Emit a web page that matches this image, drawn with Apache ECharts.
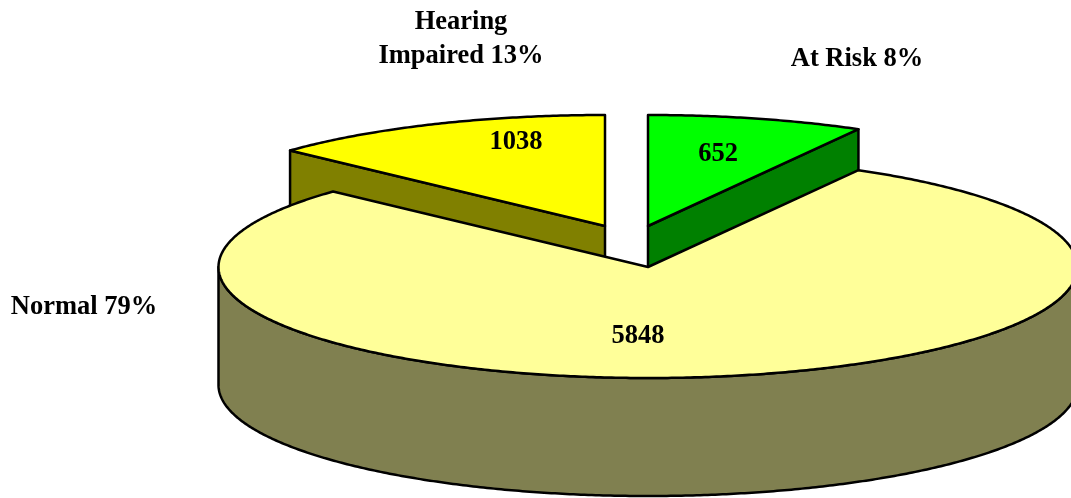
<!DOCTYPE html>
<html>
<head>
<meta charset="utf-8">
<style>
html, body { margin: 0; padding: 0; background: #fff; }
#main { width: 1071px; height: 498px; }
</style>
<script src="https://cdn.jsdelivr.net/npm/echarts@6/dist/echarts.min.js"></script>
</head>
<body>
<div id="main"></div>
<script>
// data, in drawing order (the big slice goes last so it covers the others' sides)
var names = ['Hearing\nImpaired', 'At Risk', 'Normal'];
var percentLabels = [13, 8, 79];
var shares = [13.1, 8.15, 78.75]; // unrounded shares
var counts = [1038, 652, 5848];

var topColors = ['#ffff00', '#00ff00', '#ffff99'];
var sideColors = ['#808000', '#008000', '#808050'];

// the flat pie on the page
var cx = 648, cy = 267, rx = 429.5, ry = 111, depth = 118;
var explode = [[-43, -41], [0, -41], [0, 0]];
var nameLabelPos = [[461, 39], [857, 59], [84, 307]];
var countLabelPos = [[516, 142], [718, 154], [638, 336]];
var fontFamily = '"Liberation Serif", "Times New Roman", serif';

// slice angles in degrees, clockwise from 12 o'clock
var startAngle = -shares[0] * 3.6;

function slicePoint(deg, ox, oy, down) {
    var a = deg * Math.PI / 180;
    return [cx + ox + rx * Math.sin(a), cy + oy + down - ry * Math.cos(a)];
}

function arcPoints(from, to, ox, oy, down) {
    var pts = [];
    var n = Math.max(2, Math.ceil(Math.abs(to - from) * 2));
    for (var i = 0; i <= n; i++) {
        pts.push(slicePoint(from + (to - from) * i / n, ox, oy, down));
    }
    return pts;
}

function poly(points, fill) {
    return {
        type: 'polygon',
        shape: { points: points },
        style: { fill: fill, stroke: '#000', lineWidth: 2.5, lineJoin: 'round' }
    };
}

function label(text, pos) {
    return {
        type: 'text',
        x: pos[0],
        y: pos[1],
        style: {
            text: text,
            fill: '#000',
            font: 'bold 26.5px ' + fontFamily,
            lineHeight: 34,
            align: 'center',
            verticalAlign: 'middle'
        }
    };
}

function renderSlice(params, api) {
    var i = params.dataIndex;
    var from = startAngle;
    for (var k = 0; k < i; k++) {
        from += shares[k] * 3.6;
    }
    var to = from + api.value(0) * 3.6;
    var ox = explode[i][0], oy = explode[i][1];
    var apex = [cx + ox, cy + oy];
    var children = [];

    if (i === 2) {
        // only the front of the rim shows
        var rim = arcPoints(90, 270, ox, oy, 0).concat(arcPoints(270, 90, ox, oy, depth));
        children.push(poly(rim, sideColors[i]));
    } else {
        // the cut face that looks toward the viewer
        var edge = i === 0 ? from : to;
        var p = slicePoint(edge, ox, oy, 0);
        var q = slicePoint(edge, ox, oy, depth);
        children.push(poly([apex, p, q, [apex[0], apex[1] + depth]], sideColors[i]));
    }

    children.push(poly([apex].concat(arcPoints(from, to, ox, oy, 0)), topColors[i]));
    children.push(label(names[i] + ' ' + percentLabels[i] + '%', nameLabelPos[i]));
    children.push(label(String(counts[i]), countLabelPos[i]));

    return { type: 'group', children: children };
}

var myChart = echarts.init(document.getElementById('main'), null, { renderer: 'canvas' });
myChart.setOption({
    animation: false,
    backgroundColor: '#fff',
    series: [{
        type: 'custom',
        coordinateSystem: 'none',
        renderItem: renderSlice,
        silent: true,
        data: shares
    }]
});
</script>
</body>
</html>
